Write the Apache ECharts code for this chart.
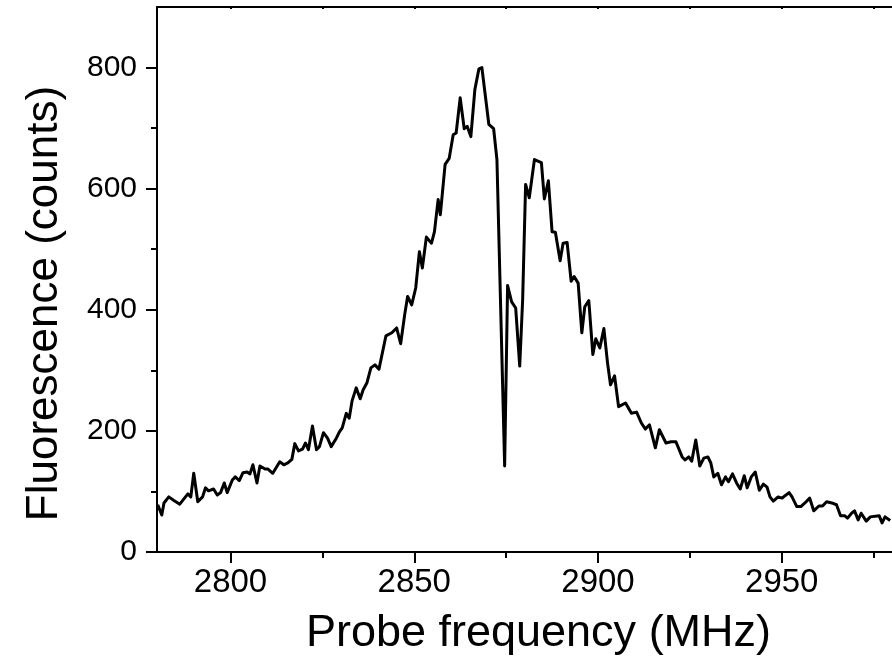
<!DOCTYPE html>
<html>
<head>
<meta charset="utf-8">
<script src="https://cdn.jsdelivr.net/npm/echarts@6/dist/echarts.min.js"></script>
<style>
html,body{margin:0;padding:0;background:#fff;}
#chart{width:892px;height:667px;}
</style>
</head>
<body>
<div id="chart"></div>
<script>
var freq = [2780.2,2781.3,2781.9,2783.2,2784.6,2786.2,2788.4,2789.2,2790.0,2791.1,2792.4,2793.2,2794.0,2795.4,2796.4,2797.3,2798.3,2799.1,2800.5,2801.3,2802.4,2803.4,2804.5,2805.3,2806.1,2807.2,2808.0,2809.4,2810.2,2811.5,2813.4,2814.5,2815.6,2816.7,2817.5,2818.5,2819.6,2820.4,2821.2,2822.3,2823.4,2824.2,2825.3,2826.4,2827.4,2828.8,2829.6,2830.4,2831.5,2832.3,2833.1,2834.2,2835.3,2836.1,2837.1,2838.2,2839.3,2840.4,2842.3,2843.9,2845.2,2846.3,2847.4,2848.2,2849.3,2850.4,2851.4,2852.2,2853.3,2854.7,2855.5,2856.5,2857.1,2858.4,2859.5,2860.6,2861.4,2862.5,2863.6,2864.4,2865.4,2866.5,2867.6,2868.4,2870.3,2871.6,2872.5,2874.6,2875.4,2876.5,2877.6,2878.7,2879.5,2880.3,2881.3,2882.7,2884.6,2885.4,2886.5,2887.5,2888.4,2889.7,2890.5,2891.6,2892.7,2893.5,2894.6,2895.6,2896.4,2897.5,2898.6,2899.4,2900.5,2901.6,2902.6,2903.4,2904.5,2905.6,2907.5,2909.1,2910.5,2911.8,2912.9,2914.0,2915.6,2916.7,2918.5,2919.9,2921.2,2922.9,2923.7,2924.7,2925.5,2926.6,2927.7,2928.8,2929.9,2930.7,2931.5,2932.6,2933.6,2934.7,2935.5,2936.6,2937.7,2938.7,2939.8,2940.6,2941.7,2942.8,2943.9,2945.0,2946.0,2946.8,2947.7,2949.0,2950.1,2950.9,2952.0,2952.8,2954.1,2955.2,2956.3,2957.6,2958.7,2960.1,2961.1,2962.2,2963.6,2964.9,2966.0,2967.1,2967.9,2969.0,2969.8,2970.8,2971.6,2973.0,2974.1,2976.5,2977.3,2978.1,2979.5];
var counts = [78,61,81,91,85,79,96,91,130,83,91,106,101,104,94,98,114,98,119,124,118,131,132,129,144,114,142,137,137,130,149,144,147,153,179,167,170,180,169,208,169,174,197,188,174,188,198,205,229,221,250,271,253,268,279,304,309,302,357,362,370,344,392,422,408,436,496,469,520,510,529,582,557,640,650,689,692,750,699,703,686,764,798,800,706,699,648,142,440,413,403,307,417,607,585,648,643,583,613,529,528,481,510,511,447,455,444,362,405,415,326,352,337,369,312,276,291,240,246,229,231,213,203,210,172,202,180,182,182,157,152,157,150,185,142,155,157,147,124,130,111,124,116,129,114,104,126,106,124,132,102,112,107,91,84,91,89,93,98,91,75,75,81,89,68,76,76,83,81,78,60,60,56,64,68,53,64,51,58,60,48,58,52];
var xMajorTicks = [2800,2850,2900,2950];
var xMinorTicks = [2825,2875,2925,2975];
var xTopTicks = [2800,2825,2850,2875,2900,2925,2950,2975];
var yMajorTicks = [0,200,400,600,800];
var yMinorTicks = [100,300,500,700];

var data = freq.map(function(f,i){ return [f, counts[i]]; });
var font = '"Liberation Sans", Arial, sans-serif';
var lineStyle = {color:'#000', width:2};
function plain(v){ return String(v); }

var chart = echarts.init(document.getElementById('chart'), null, {renderer:'canvas'});
chart.setOption({
  animation:false,
  backgroundColor:'#fff',
  grid:{left:157, top:7, right:-6, bottom:115, containLabel:false},
  xAxis:[
    {type:'value', min:2780, max:2980, position:'bottom',
     name:'Probe frequency (MHz)', nameLocation:'middle', nameGap:59,
     nameTextStyle:{fontSize:45, color:'#000', fontFamily:font, padding:[0,0,0,28]},
     axisLine:{show:true, onZero:false, lineStyle:lineStyle},
     axisTick:{show:true, inside:false, length:11, lineStyle:lineStyle, customValues:xMajorTicks},
     axisLabel:{show:true, fontSize:33, color:'#000', fontFamily:font, margin:14, customValues:xMajorTicks, formatter:plain},
     splitLine:{show:false}},
    {type:'value', min:2780, max:2980, position:'top',
     axisLine:{show:true, onZero:false, lineStyle:lineStyle},
     axisTick:{show:true, inside:true, length:2, lineStyle:lineStyle, customValues:xTopTicks},
     axisLabel:{show:false}, splitLine:{show:false}},
    {type:'value', min:2780, max:2980, position:'bottom',
     axisLine:{show:false, onZero:false},
     axisTick:{show:true, inside:false, length:6, lineStyle:lineStyle, customValues:xMinorTicks},
     axisLabel:{show:false}, splitLine:{show:false}}
  ],
  yAxis:[
    {type:'value', min:0, max:900, position:'left',
     name:'Fluorescence (counts)', nameLocation:'middle', nameGap:90,
     nameTextStyle:{fontSize:44, color:'#000', fontFamily:font, padding:[0,48,0,0]},
     axisLine:{show:true, onZero:false, lineStyle:lineStyle},
     axisTick:{show:true, inside:false, length:11, lineStyle:lineStyle, customValues:yMajorTicks},
     axisLabel:{show:true, fontSize:30, color:'#000', fontFamily:font, margin:20, customValues:yMajorTicks, formatter:plain},
     splitLine:{show:false}},
    {type:'value', min:0, max:900, position:'left',
     axisLine:{show:false, onZero:false},
     axisTick:{show:true, inside:false, length:6, lineStyle:lineStyle, customValues:yMinorTicks},
     axisLabel:{show:false}, splitLine:{show:false}}
  ],
  series:[{
    type:'line', xAxisIndex:0, yAxisIndex:0, data:data,
    showSymbol:false, symbol:'none', smooth:false,
    lineStyle:{color:'#000', width:3, join:'round'}
  }]
});
</script>
</body>
</html>
